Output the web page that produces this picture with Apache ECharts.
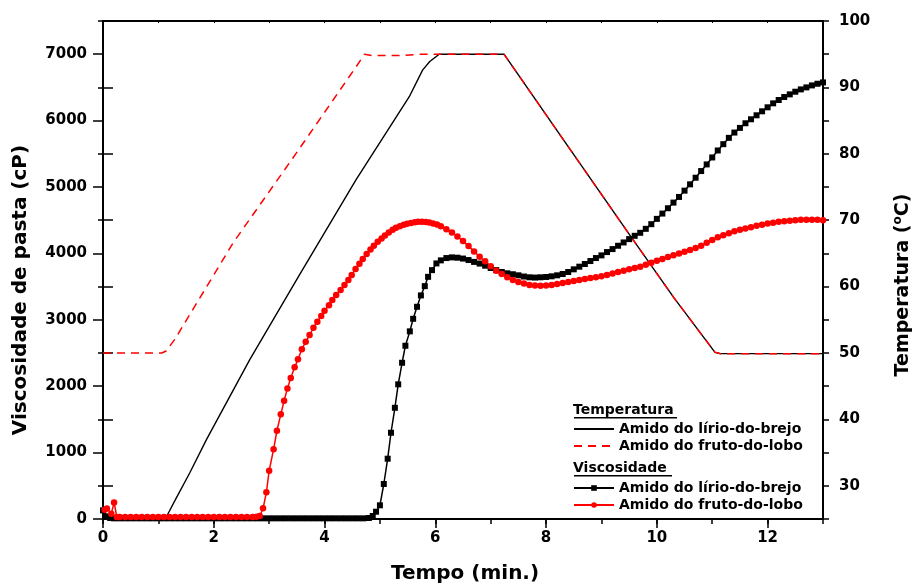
<!DOCTYPE html>
<html><head><meta charset="utf-8">
<script src="https://cdn.jsdelivr.net/npm/echarts@6/dist/echarts.min.js"></script>
<style>html,body{margin:0;padding:0;background:#fff}#c{width:915px;height:584px}</style>
</head><body><div id="c"></div>
<script>
// ---------- DATA ----------
// Temperature profiles [time (min), °C]
const tempLirio = [[0,25],[1.12,25],[1.2,26.2],[1.3,27.8],[1.57,32],[1.87,37],[2.65,49],[3.55,61.8],[4.57,76.1],[5.53,88.6],[5.77,92.6],[5.9,93.9],[6.07,95],[7.24,95],[8.23,83.1],[9.55,67.3],[10.31,58.3],[11.05,50.1],[11.15,49.9],[13,49.9]];
const tempFruto = [[0,50],[1.06,50],[1.14,50.3],[1.3,52.1],[2.35,66.6],[3.49,80.1],[4.57,93.1],[4.72,95],[4.85,94.8],[5.35,94.8],[5.77,95],[7.24,95],[8.23,83.1],[9.55,67.3],[10.31,58.3],[11.05,50.1],[11.15,49.9],[13,49.9]];
// Paste viscosity [time (min), cP]
const viscLirio = [[0,130],[0.07,40],[0.13,15],[0.2,10],[0.3,10],[0.4,10],[0.5,10],[0.6,10],[0.7,10],[0.8,10],[0.9,10],[1.0,10],[1.1,10],[1.2,10],[1.3,10],[1.4,10],[1.5,10],[1.6,10],[1.7,10],[1.8,10],[1.9,10],[2.0,10],[2.1,10],[2.2,10],[2.3,10],[2.4,10],[2.5,10],[2.6,10],[2.7,10],[2.8,10],[2.9,10],[3.0,10],[3.1,10],[3.2,10],[3.3,10],[3.4,10],[3.5,10],[3.6,10],[3.7,10],[3.8,10],[3.9,10],[4.0,10],[4.1,10],[4.2,10],[4.3,10],[4.4,10],[4.5,10],[4.6,10],[4.7,10],[4.8,15],[4.87,45],[4.93,110],[5.0,206],[5.07,527],[5.14,908],[5.2,1299],[5.27,1675],[5.33,2028],[5.4,2353],[5.46,2609],[5.54,2826],[5.6,3015],[5.67,3196],[5.74,3367],[5.81,3507],[5.87,3647],[5.94,3748],[6.02,3849],[6.1,3895],[6.2,3930],[6.3,3940],[6.4,3935],[6.5,3922],[6.6,3900],[6.7,3872],[6.8,3847],[6.9,3815],[7.0,3780],[7.1,3748],[7.2,3720],[7.3,3700],[7.4,3686],[7.5,3670],[7.6,3652],[7.7,3640],[7.8,3636],[7.9,3640],[8.0,3645],[8.1,3655],[8.2,3670],[8.3,3690],[8.4,3720],[8.5,3760],[8.6,3800],[8.7,3840],[8.8,3885],[8.9,3930],[9.0,3970],[9.1,4020],[9.2,4065],[9.3,4115],[9.4,4165],[9.5,4215],[9.6,4265],[9.7,4310],[9.8,4370],[9.9,4440],[10.0,4520],[10.1,4600],[10.2,4680],[10.3,4765],[10.4,4850],[10.5,4945],[10.6,5040],[10.7,5140],[10.8,5240],[10.9,5340],[11.0,5445],[11.1,5550],[11.2,5645],[11.3,5740],[11.4,5820],[11.5,5890],[11.6,5960],[11.7,6020],[11.8,6080],[11.9,6140],[12.0,6200],[12.1,6260],[12.2,6310],[12.3,6355],[12.4,6395],[12.5,6435],[12.6,6470],[12.7,6500],[12.8,6530],[12.9,6555],[13.0,6575]];
const viscFruto = [[0.03,140],[0.07,160],[0.15,80],[0.2,250],[0.25,30],[0.3,30],[0.4,30],[0.5,30],[0.6,30],[0.7,30],[0.8,30],[0.9,30],[1.0,30],[1.1,30],[1.2,30],[1.3,30],[1.4,30],[1.5,30],[1.6,30],[1.7,30],[1.8,30],[1.9,30],[2.0,30],[2.1,30],[2.2,30],[2.3,30],[2.4,30],[2.5,30],[2.6,30],[2.7,30],[2.77,35],[2.83,45],[2.89,161],[2.95,402],[3.0,727],[3.08,1049],[3.14,1329],[3.21,1576],[3.27,1781],[3.33,1967],[3.39,2123],[3.46,2284],[3.52,2404],[3.59,2555],[3.66,2669],[3.73,2770],[3.8,2880],[3.87,2970],[3.94,3056],[4.0,3136],[4.08,3221],[4.14,3297],[4.21,3372],[4.29,3447],[4.36,3523],[4.43,3598],[4.49,3673],[4.56,3765],[4.63,3845],[4.69,3915],[4.76,3990],[4.83,4060],[4.89,4115],[4.96,4175],[5.03,4225],[5.09,4270],[5.16,4315],[5.23,4355],[5.29,4385],[5.36,4410],[5.43,4430],[5.49,4445],[5.56,4458],[5.63,4468],[5.69,4475],[5.76,4478],[5.83,4474],[5.89,4465],[5.96,4450],[6.03,4435],[6.1,4410],[6.2,4365],[6.3,4315],[6.4,4255],[6.5,4185],[6.6,4110],[6.7,4030],[6.8,3950],[6.9,3880],[7.0,3805],[7.1,3740],[7.2,3690],[7.3,3640],[7.4,3600],[7.5,3570],[7.6,3545],[7.7,3525],[7.8,3515],[7.9,3512],[8.0,3515],[8.1,3525],[8.2,3540],[8.3,3555],[8.4,3570],[8.5,3585],[8.6,3600],[8.7,3615],[8.8,3628],[8.9,3640],[9.0,3655],[9.1,3675],[9.2,3698],[9.3,3720],[9.4,3740],[9.5,3760],[9.6,3780],[9.7,3800],[9.8,3830],[9.9,3860],[10.0,3890],[10.1,3915],[10.2,3945],[10.3,3972],[10.4,4000],[10.5,4025],[10.6,4050],[10.7,4080],[10.8,4115],[10.9,4160],[11.0,4200],[11.1,4245],[11.2,4275],[11.3,4305],[11.4,4335],[11.5,4355],[11.6,4375],[11.7,4395],[11.8,4415],[11.9,4432],[12.0,4450],[12.1,4462],[12.2,4475],[12.3,4485],[12.4,4493],[12.5,4500],[12.6,4505],[12.7,4505],[12.8,4505],[12.9,4505],[13.0,4500]];
// Tick labels / texts
const xMajorTicks = [0,2,4,6,8,10,12];
const yLeftMajorTicks = [0,1000,2000,3000,4000,5000,6000,7000];
const yRightMajorTicks = [30,40,50,60,70,80,90,100];
const seriesLabels = {
  tempLirio: 'Amido do lírio-do-brejo',
  tempFruto: 'Amido do fruto-do-lobo',
  viscLirio: 'Amido do lírio-do-brejo',
  viscFruto: 'Amido do fruto-do-lobo'
};
const legendTitles = ['Temperatura', 'Viscosidade'];
const axisTitles = { x: 'Tempo (min.)', yLeft: 'Viscosidade de pasta (cP)', yRight: 'Temperatura (', yRightSup: 'o', yRightEnd: 'C)' };

// ---------- CHART ----------
const FONT = '"DejaVu Sans", sans-serif';
const lineBlack = { color: '#000', width: 2 };
const chart = echarts.init(document.getElementById('c'), null, { renderer: 'canvas' });

const labelStyle = { color: '#000', fontFamily: FONT, fontWeight: 'bold', fontSize: 15 };
const legendText = { color: '#000', fontFamily: FONT, fontWeight: 'bold', fontSize: 14 };

const option = {
  animation: false,
  backgroundColor: '#fff',
  grid: { left: 103, right: 92, top: 21, bottom: 65, containLabel: false },
  xAxis: [
    { type: 'value', position: 'bottom', min: 0, max: 13, interval: 1,
      axisLine: { show: true, lineStyle: lineBlack }, splitLine: { show: false },
      axisTick: { show: true, inside: false, length: 5, lineStyle: { color: '#000', width: 1.5 } },
      axisLabel: { ...labelStyle, margin: 12, formatter: v => (xMajorTicks.includes(v) ? String(v) : '') } },
    { type: 'value', position: 'top', min: 0, max: 13, interval: 1,
      axisLine: { show: true, onZero: false, lineStyle: lineBlack }, splitLine: { show: false },
      axisTick: { show: true, inside: true, length: 2, lineStyle: { color: '#000', width: 1 } },
      axisLabel: { show: false } },
    { type: 'value', position: 'bottom', min: 0, max: 13,
      axisLine: { show: false }, splitLine: { show: false },
      axisTick: { show: true, inside: false, length: 9, customValues: xMajorTicks, lineStyle: { color: '#000', width: 1.5 } },
      axisLabel: { show: false } }
  ],
  yAxis: [
    { type: 'value', position: 'left', min: 0, max: 7500, interval: 500,
      axisLine: { show: true, onZero: false, lineStyle: lineBlack }, splitLine: { show: false },
      axisTick: { show: true, inside: false, length: 5, lineStyle: { color: '#000', width: 1.5 } },
      axisLabel: { ...labelStyle, margin: 16, formatter: v => (yLeftMajorTicks.includes(v) ? String(v) : '') } },
    { type: 'value', position: 'right', min: 25, max: 100, interval: 5,
      axisLine: { show: true, onZero: false, lineStyle: lineBlack }, splitLine: { show: false },
      axisTick: { show: true, inside: false, length: 6, lineStyle: { color: '#000', width: 1.5 } },
      axisLabel: { ...labelStyle, margin: 16, formatter: v => (yRightMajorTicks.includes(v) ? String(v) : '') } },
    { type: 'value', position: 'left', min: 0, max: 7500,
      axisLine: { show: false }, splitLine: { show: false },
      axisTick: { show: true, inside: false, length: 10, customValues: yLeftMajorTicks, lineStyle: { color: '#000', width: 1.5 } },
      axisLabel: { show: false } },
    { type: 'value', position: 'right', min: 25, max: 100,
      axisLine: { show: false }, splitLine: { show: false },
      axisTick: { show: true, inside: false, length: 10, customValues: yRightMajorTicks, lineStyle: { color: '#000', width: 1.5 } },
      axisLabel: { show: false } }
  ],
  legend: [
    { orient: 'vertical', left: 573, top: 422, padding: 0, itemGap: 3, itemWidth: 40, itemHeight: 7,
      selectedMode: false, data: ['tempLirio', 'tempFruto'], formatter: n => seriesLabels[n],
      itemStyle: { opacity: 0 }, textStyle: legendText },
    { orient: 'vertical', left: 573, top: 481, padding: 0, itemGap: 3, itemWidth: 40, itemHeight: 7,
      selectedMode: false, data: ['viscLirio', 'viscFruto'], formatter: n => seriesLabels[n],
      textStyle: legendText }
  ],
  series: [
    { name: 'tempLirio', type: 'line', xAxisIndex: 0, yAxisIndex: 1, data: tempLirio,
      symbol: 'none', showSymbol: false, lineStyle: { color: '#000', width: 1.4 }, itemStyle: { color: '#000' } },
    { name: 'tempFruto', type: 'line', xAxisIndex: 0, yAxisIndex: 1, data: tempFruto,
      symbol: 'none', showSymbol: false, lineStyle: { color: '#ff0000', width: 1.5, type: [8, 6] }, itemStyle: { color: '#ff0000' } },
    { name: 'viscLirio', type: 'line', xAxisIndex: 0, yAxisIndex: 0, data: viscLirio,
      symbol: 'rect', symbolSize: 6, showSymbol: true, showAllSymbol: true,
      lineStyle: { color: '#000', width: 1.5 }, itemStyle: { color: '#000' } },
    { name: 'viscFruto', type: 'line', xAxisIndex: 0, yAxisIndex: 0, data: viscFruto,
      symbol: 'circle', symbolSize: 6.5, showSymbol: true, showAllSymbol: true,
      lineStyle: { color: '#ff0000', width: 1.5 }, itemStyle: { color: '#ff0000' } }
  ],
  graphic: [
    { type: 'text', left: 573, top: 403, style: { text: legendTitles[0], fill: '#000', font: 'bold 14px ' + FONT } },
    { type: 'rect', left: 574, top: 417, shape: { width: 103, height: 1.5 }, style: { fill: '#000' } },
    { type: 'text', left: 573, top: 461, style: { text: legendTitles[1], fill: '#000', font: 'bold 14px ' + FONT } },
    { type: 'rect', left: 574, top: 475, shape: { width: 98, height: 1.5 }, style: { fill: '#000' } },
    { type: 'text', x: 465, y: 574, style: { text: axisTitles.x, fill: '#000', font: 'bold 20px ' + FONT, align: 'center', verticalAlign: 'middle' } },
    { type: 'text', x: 21, y: 290, rotation: Math.PI / 2, style: { text: axisTitles.yLeft, fill: '#000', font: 'bold 20px ' + FONT, align: 'center', verticalAlign: 'middle' } },
    { type: 'text', x: 903, y: 285, rotation: Math.PI / 2,
      style: { text: '{a|' + axisTitles.yRight + '}{s|' + axisTitles.yRightSup + '}{a|' + axisTitles.yRightEnd + '}',
        align: 'center', verticalAlign: 'middle',
        rich: { a: { fill: '#000', fontFamily: FONT, fontWeight: 'bold', fontSize: 19 },
                s: { fill: '#000', fontFamily: FONT, fontWeight: 'bold', fontSize: 12, padding: [0, 0, 10, 0] } } } }
  ]
};
chart.setOption(option);
</script>
</body></html>
